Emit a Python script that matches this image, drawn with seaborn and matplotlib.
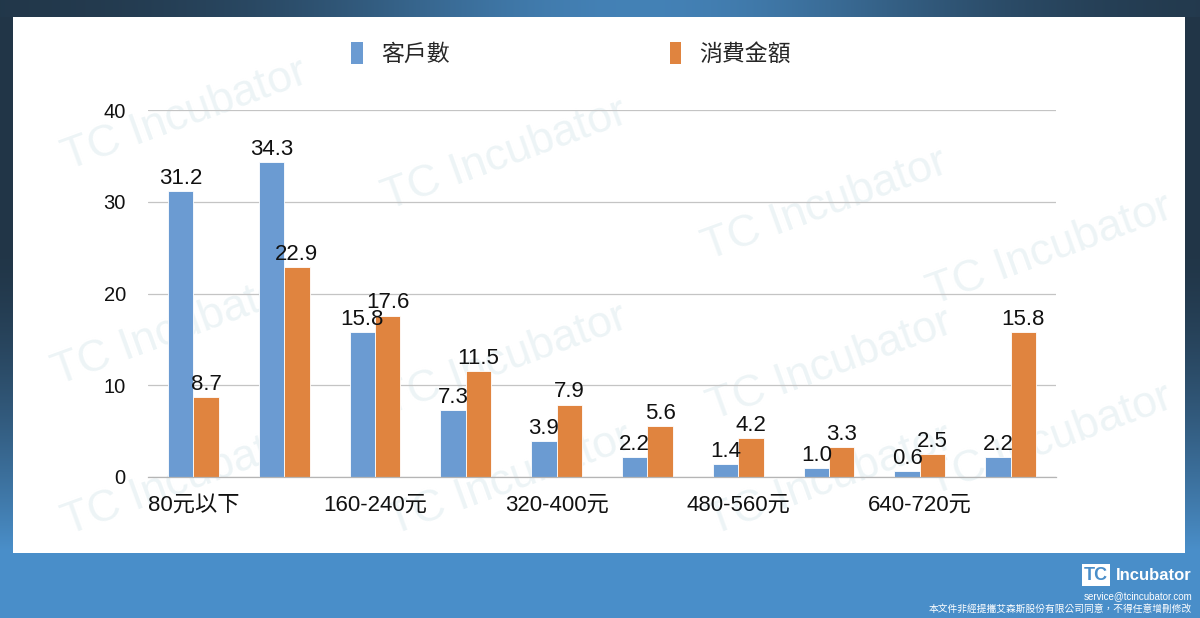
import numpy as np
import pandas as pd
import matplotlib
matplotlib.use("Agg")
import matplotlib.pyplot as plt
from matplotlib.patches import Rectangle, Patch
import seaborn as sns

# ---- data ----
categories = ['80元以下', '80-160元', '160-240元', '240-320元', '320-400元',
              '400-480元', '480-560元', '560-640元', '640-720元', '720元以上']
customers = [31.2, 34.3, 15.8, 7.3, 3.9, 2.2, 1.4, 1.0, 0.6, 2.2]
spending = [8.7, 22.9, 17.6, 11.5, 7.9, 5.6, 4.2, 3.3, 2.5, 15.8]
series_names = ['客戶數', '消費金額']
y_ticks = [0, 10, 20, 30, 40]

BLUE = '#6b9bd2'
ORANGE = '#e0843f'

sns.set_theme(style='white')
plt.rcParams['font.family'] = ['Liberation Sans', 'Noto Sans CJK TC', 'DejaVu Sans']

df = pd.DataFrame({
    'cat': categories * 2,
    'series': [series_names[0]] * len(categories) + [series_names[1]] * len(categories),
    'value': customers + spending,
})

fig = plt.figure(figsize=(12, 6.18), dpi=100)

# ---- background ----
H, W = 618, 1200
dark = np.array([0.13, 0.21, 0.28])
blue = np.array([0.29, 0.56, 0.79])
yy, xx = np.mgrid[0:H, 0:W]
t = np.clip((yy - 250) / 300.0, 0, 1) ** 1.5
top = yy < 17
th = 0.85 * np.exp(-((xx - 640) / 330.0) ** 2)
t = np.where(top, th, t)
t = np.where(yy >= 553, 1.0, t)
img = dark[None, None, :] * (1 - t[..., None]) + blue[None, None, :] * t[..., None]
bg = fig.add_axes([0, 0, 1, 1], zorder=-10)
bg.imshow(img, aspect='auto', extent=[0, W, H, 0])
bg.set_xlim(0, W)
bg.set_ylim(H, 0)
bg.set_axis_off()
bg.add_patch(Rectangle((13, 17), 1172, 536, facecolor='white', edgecolor='none', zorder=2))

# faint watermarks inside the white panel
wm_pos = [(185, 115), (505, 155), (825, 205), (1050, 250),
          (175, 330), (505, 360), (830, 365), (1050, 440),
          (185, 480), (510, 480), (830, 480)]
for (wx, wy) in wm_pos:
    bg.text(wx, wy, 'TC Incubator', fontsize=32, color='#edf4f6', rotation=20,
            ha='center', va='center', zorder=3)

# ---- chart ----
ax = fig.add_axes([148 / 1200, 141 / 618, 908 / 1200, 367 / 618])
ax.set_facecolor('none')
sns.barplot(data=df, x='cat', y='value', hue='series', palette=[BLUE, ORANGE],
            width=0.56, ax=ax, legend=False, edgecolor='white', linewidth=0.6,
            saturation=1)
for cont in ax.containers:
    ax.bar_label(cont, fmt='%.1f', padding=1.5, fontsize=16, color='#111111')

ax.set_ylim(0, 40)
ax.set_xlim(-0.5, len(categories) - 0.5)
ax.set_yticks(y_ticks)
ax.set_yticklabels([str(v) for v in y_ticks], fontsize=14.5)
ax.set_xticks(range(len(categories)))
ax.set_xticklabels([c if i % 2 == 0 else '' for i, c in enumerate(categories)], fontsize=16)
ax.set_xticks(np.arange(-0.5, len(categories), 1.0), minor=True)
ax.tick_params(axis='x', which='major', length=0, pad=13, colors='#111111')
ax.tick_params(axis='x', which='minor', length=5, color='#b5b5b5', width=0.8)
ax.tick_params(axis='y', length=0, pad=16, colors='#111111')
ax.set_xlabel('')
ax.set_ylabel('')
ax.yaxis.grid(True, color='#c4c4c4', linewidth=0.9)
ax.set_axisbelow(True)
for s in ['left', 'right', 'top']:
    ax.spines[s].set_visible(False)
ax.spines['bottom'].set_color('#b5b5b5')
ax.spines['bottom'].set_linewidth(0.9)

# legend
handles = [Patch(facecolor=BLUE, edgecolor='none'), Patch(facecolor=ORANGE, edgecolor='none')]
fig.legend(handles, series_names, loc='center', bbox_to_anchor=(0.476, 0.913), ncol=2,
           frameon=False, fontsize=16.5, handlelength=0.5, handleheight=1.1,
           handletextpad=0.8, columnspacing=9.6)

# footer
fig.text(1108 / 1200, 1 - 575 / 618, 'TC', fontsize=13, fontweight='bold', color='#4a8ec9',
         ha='right', va='center',
         bbox=dict(boxstyle='square,pad=0.12', facecolor='white', edgecolor='none'))
fig.text(1192 / 1200, 1 - 575 / 618, 'Incubator', fontsize=12, fontweight='bold',
         color='white', ha='right', va='center')
fig.text(1192 / 1200, 1 - 596 / 618, 'service@tcincubator.com', fontsize=7, color='white',
         ha='right', va='center')
fig.text(1192 / 1200, 1 - 609 / 618, '本文件非經提攜艾森斯股份有限公司同意，不得任意增刪修改',
         fontsize=7, color='white', ha='right', va='center')

fig.savefig('out.png', dpi=100)
